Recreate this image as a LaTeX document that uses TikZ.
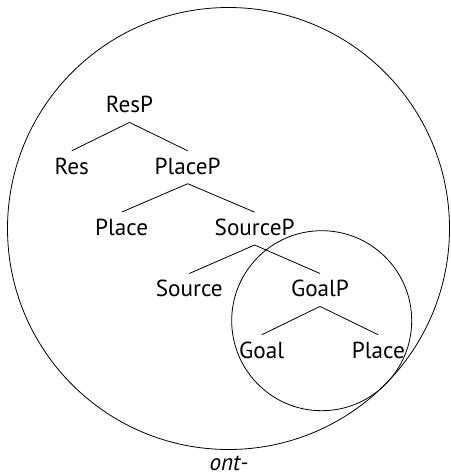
\documentclass[tikz,border=0pt]{standalone}
\usepackage{fontspec}
\setmainfont{PT Sans}
\begin{document}
\begin{tikzpicture}[x=1pt,y=-1pt,
  lbl/.style={anchor=base,font=\fontsize{23.2}{27}\selectfont,text height=18.5pt,text depth=5pt,inner xsep=0pt,inner ysep=4.5pt},
  caption/.style={anchor=base,font=\fontsize{23.2}{27}\selectfont\itshape,inner sep=0pt},
  branch/.style={line width=0.8pt},
  ring/.style={line width=0.8pt}]
\useasboundingbox (0,0) rectangle (450,474);
\draw[ring] (228.5,228.5) circle[radius=221];
\draw[ring] (321.7,320.7) circle[radius=90];
\node[lbl] (resp) at (129.5,112.7) {ResP};
\node[lbl] (res) at (71.7,174) {Res};
\node[lbl] (placep) at (187.7,174) {PlaceP};
\node[lbl] (place1) at (121.7,235.3) {Place};
\node[lbl] (sourcep) at (254.6,235.3) {SourceP};
\node[lbl] (source) at (189.3,296.7) {Source};
\node[lbl] (goalp) at (320,296.7) {GoalP};
\node[lbl] (goal) at (261.7,358) {Goal};
\node[lbl] (place2) at (378.3,358) {Place};
\node[caption] (ont) at (229,470) {ont-};
\draw[branch] (resp.south) -- (res.north);
\draw[branch] (resp.south) -- (placep.north);
\draw[branch] (placep.south) -- (place1.north);
\draw[branch] (placep.south) -- (sourcep.north);
\draw[branch] (sourcep.south) -- (source.north);
\draw[branch] (sourcep.south) -- (goalp.north);
\draw[branch] (goalp.south) -- (goal.north);
\draw[branch] (goalp.south) -- (place2.north);
\end{tikzpicture}
\end{document}
